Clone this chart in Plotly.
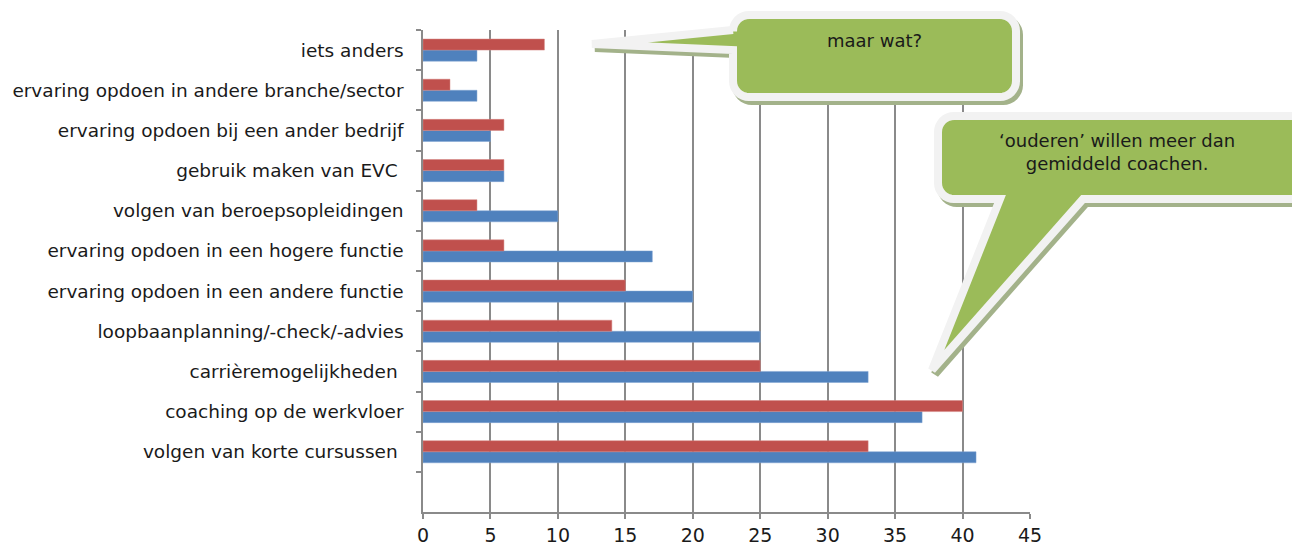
import math
import plotly.graph_objects as go

categories = [
    "volgen van korte cursussen\u00a0",
    "coaching op de werkvloer",
    "carrièremogelijkheden\u00a0",
    "loopbaanplanning/-check/-advies",
    "ervaring opdoen in een andere functie",
    "ervaring opdoen in een hogere functie",
    "volgen van beroepsopleidingen",
    "gebruik maken van EVC\u00a0",
    "ervaring opdoen bij een ander bedrijf",
    "ervaring opdoen in andere branche/sector",
    "iets anders",
]
blue_values = [41, 37, 33, 25, 20, 17, 10, 6, 5, 4, 4]
red_values = [33, 40, 25, 14, 15, 6, 4, 6, 6, 2, 9]
x_ticks = [0, 5, 10, 15, 20, 25, 30, 35, 40, 45]

# page has an 8px body margin; work in screen pixels and convert
OFF = 8
W, H = 1300, 547
SX0, SX1, SY0, SY1 = 423, 1030, 30, 512  # plot area in screen pixels
L = SX0 - OFF
T = SY0 - OFF
PW = SX1 - SX0
PH = SY1 - SY0
R = W - L - PW
B = H - T - PH


def px(x):
    return (x - SX0) / PW


def py(y):
    return (SY1 - y) / PH


def path(points):
    return "M " + " L ".join(f"{px(x):.5f},{py(y):.5f}" for x, y in points) + " Z"


def rrect_path(x0, y0, x1, y1, r, tail=None, side=None):
    pts = []

    def arc(cx, cy, a0, a1, n=8):
        for i in range(n + 1):
            a = math.radians(a0 + (a1 - a0) * i / n)
            pts.append((cx + r * math.cos(a), cy + r * math.sin(a)))
    arc(x0 + r, y0 + r, 180, 270)
    arc(x1 - r, y0 + r, 270, 360)
    arc(x1 - r, y1 - r, 0, 90)
    if side == "bottom":
        pts.extend(tail)
    arc(x0 + r, y1 - r, 90, 180)
    if side == "left":
        pts.extend(tail)
    return pts


shapes = []


def callout(pts, dx=3, dy=4):
    shadow = [(x + dx, y + dy) for x, y in pts]
    shapes.append(dict(type="path", xref="paper", yref="paper", path=path(shadow),
                       fillcolor="#A3B28A", line=dict(color="#A3B28A", width=8), layer="above"))
    shapes.append(dict(type="path", xref="paper", yref="paper", path=path(pts),
                       fillcolor="#9BBB59", line=dict(color="#F2F2F2", width=8), layer="above"))


fig = go.Figure()
fig.add_trace(go.Bar(y=categories, x=blue_values, orientation="h",
                     marker=dict(color="#4F81BD", line=dict(color="#7FA2D1", width=0.5)),
                     name="blue"))
fig.add_trace(go.Bar(y=categories, x=red_values, orientation="h",
                     marker=dict(color="#C0504D", line=dict(color="#D58480", width=0.5)),
                     name="red"))

c1 = rrect_path(733, 15, 1016, 97, 16, tail=[(733, 50), (592, 44), (733, 30)], side="left")
callout(c1)
c2 = rrect_path(938, 116, 1320, 199, 16, tail=[(1083, 199), (932, 370), (1000, 199)], side="bottom")
callout(c2)

annotations = [
    dict(x=px(874), y=py(40), xref="paper", yref="paper", text="maar wat?", showarrow=False,
         xanchor="center", yanchor="middle",
         font=dict(family="DejaVu Sans", size=18, color="#1a1a1a")),
    dict(x=px(1117), y=py(152), xref="paper", yref="paper",
         text="‘ouderen’ willen meer dan<br>gemiddeld coachen.", showarrow=False,
         xanchor="center", yanchor="middle",
         font=dict(family="DejaVu Sans", size=18, color="#1a1a1a")),
]

fig.update_layout(
    width=W, height=H,
    margin=dict(l=L, r=R, t=T, b=B, autoexpand=False),
    paper_bgcolor="white", plot_bgcolor="white",
    barmode="group", bargap=0.45, bargroupgap=0,
    showlegend=False,
    font=dict(family="DejaVu Sans", size=18, color="#1a1a1a"),
    shapes=shapes, annotations=annotations,
)
fig.update_xaxes(range=[0, 45], tickvals=x_ticks, showgrid=True, gridcolor="#8a8a8a", gridwidth=1.5,
                 showline=True, linecolor="#8a8a8a", linewidth=1.5, ticks="outside", ticklen=5,
                 tickcolor="#8a8a8a", tickwidth=1.5,
                 tickfont=dict(size=19, family="DejaVu Sans"), zeroline=False, automargin=False)
fig.update_yaxes(type="category", categoryorder="array", categoryarray=categories,
                 range=[-1.5, 10.5], showgrid=False, showline=True, linecolor="#8a8a8a", linewidth=1.5,
                 ticks="outside", ticklen=5, tickcolor="#8a8a8a", tickwidth=1.5, tickson="boundaries",
                 tickfont=dict(size=18.5, family="DejaVu Sans"), ticklabelstandoff=14,
                 automargin=False)

fig.write_html("out.html")
